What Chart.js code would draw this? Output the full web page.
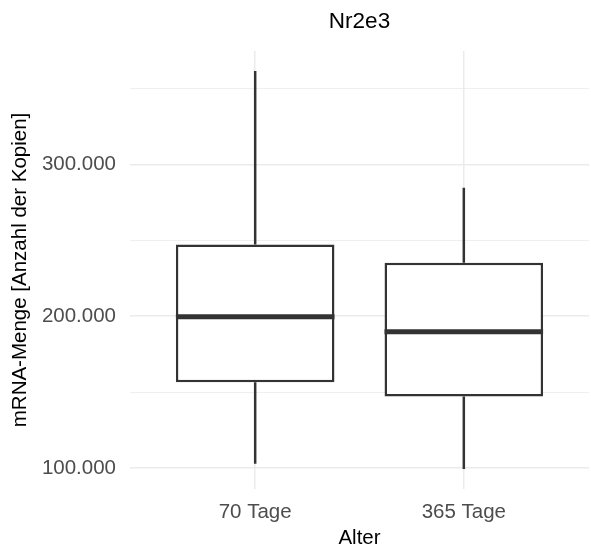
<!DOCTYPE html>
<html lang="de">
<head>
    <meta charset="UTF-8">
    <title>Nr2e3</title>
    <script src="https://cdn.jsdelivr.net/npm/chart.js"></script>
    <style>
        body {
            margin: 0;
            background-color: white;
        }
    </style>
</head>
<body>
    <canvas id="boxChart" width="591" height="554"></canvas>
    <script>
        // Boxplot summary per age group (copies of mRNA)
        const ageGroups = ['70 Tage', '365 Tage'];
        const whiskerLow = [102800, 99300];
        const lowerQuartile = [156500, 147200];
        const medianValue = [199600, 189700];
        const upperQuartile = [247300, 235200];
        const whiskerHigh = [361600, 284700];

        const yMajorTicks = [100000, 200000, 300000];
        const yMinorTicks = [150000, 250000, 350000];

        const fontFamily = "'Liberation Sans', Arial, sans-serif";
        const lineColor = '#333333';
        const gridColor = '#EBEBEB';

        // y range padded by 5% like ggplot's default expansion
        const dataMin = Math.min(...whiskerLow);
        const dataMax = Math.max(...whiskerHigh);
        const pad = (dataMax - dataMin) * 0.05;

        function formatDe(v) {
            return String(v).replace(/\B(?=(\d{3})+(?!\d))/g, '.');
        }

        // whiskers and median bars on top of the floating bars
        const boxplotExtras = {
            id: 'boxplotExtras',
            afterDatasetsDraw(chart) {
                const ctx = chart.ctx;
                const xs = chart.scales.x;
                const ys = chart.scales.y;
                const bars = chart.getDatasetMeta(0).data;
                ctx.save();
                ctx.strokeStyle = lineColor;
                ageGroups.forEach((g, i) => {
                    const cx = xs.getPixelForValue(i + 1);
                    ctx.lineWidth = 2.5;
                    ctx.beginPath();
                    ctx.moveTo(cx, ys.getPixelForValue(upperQuartile[i]));
                    ctx.lineTo(cx, ys.getPixelForValue(whiskerHigh[i]));
                    ctx.moveTo(cx, ys.getPixelForValue(lowerQuartile[i]));
                    ctx.lineTo(cx, ys.getPixelForValue(whiskerLow[i]));
                    ctx.stroke();

                    const half = bars[i].width / 2;
                    const my = ys.getPixelForValue(medianValue[i]);
                    ctx.lineWidth = 5;
                    ctx.beginPath();
                    ctx.moveTo(cx - half, my);
                    ctx.lineTo(cx + half, my);
                    ctx.stroke();
                });
                ctx.restore();
            }
        };

        new Chart(document.getElementById('boxChart').getContext('2d'), {
            type: 'bar',
            data: {
                datasets: [{
                    data: ageGroups.map((g, i) => ({ x: i + 1, y: [lowerQuartile[i], upperQuartile[i]] })),
                    backgroundColor: 'white',
                    borderColor: lineColor,
                    borderWidth: 2.5,
                    borderSkipped: false,
                    barPercentage: 0.76,
                    categoryPercentage: 1
                }]
            },
            options: {
                responsive: false,
                animation: false,
                layout: { padding: { left: 0, right: 2, top: 0, bottom: 0 } },
                plugins: {
                    legend: { display: false },
                    tooltip: { enabled: false },
                    title: {
                        display: true,
                        text: 'Nr2e3',
                        color: '#000000',
                        fullSize: false,
                        font: { family: fontFamily, size: 22.5, weight: 'normal' },
                        padding: { top: 8, bottom: 16 }
                    }
                },
                scales: {
                    x: {
                        type: 'linear',
                        min: 0.4,
                        max: 2.6,
                        offset: false,
                        afterBuildTicks(scale) {
                            scale.ticks = ageGroups.map((g, i) => ({ value: i + 1 }));
                        },
                        afterFit(scale) { scale.height = 65; },
                        border: { display: false },
                        grid: { color: gridColor, lineWidth: 1.5, drawTicks: false, offset: false },
                        ticks: {
                            padding: 11,
                            color: '#4D4D4D',
                            font: { family: fontFamily, size: 20.5 },
                            callback: (v) => ageGroups[v - 1]
                        },
                        title: {
                            display: true,
                            text: 'Alter',
                            color: '#000000',
                            font: { family: fontFamily, size: 20.5 },
                            padding: { top: 0, bottom: 3 }
                        }
                    },
                    y: {
                        min: dataMin - pad,
                        max: dataMax + pad,
                        afterBuildTicks(scale) {
                            scale.ticks = [...yMajorTicks, ...yMinorTicks]
                                .sort((a, b) => a - b)
                                .map(v => ({ value: v }));
                        },
                        afterFit(scale) { scale.width = 130; },
                        border: { display: false },
                        grid: {
                            color: gridColor,
                            drawTicks: false,
                            lineWidth: (c) => yMajorTicks.includes(c.tick.value) ? 1.5 : 0.8
                        },
                        ticks: {
                            padding: 14,
                            color: '#4D4D4D',
                            font: { family: fontFamily, size: 20.5 },
                            callback: (v) => yMajorTicks.includes(v) ? formatDe(v) : ''
                        },
                        title: {
                            display: true,
                            text: 'mRNA-Menge [Anzahl der Kopien]',
                            color: '#000000',
                            font: { family: fontFamily, size: 20.5 },
                            padding: { top: 8, bottom: 0 }
                        }
                    }
                }
            },
            plugins: [boxplotExtras]
        });
    </script>
</body>
</html>
